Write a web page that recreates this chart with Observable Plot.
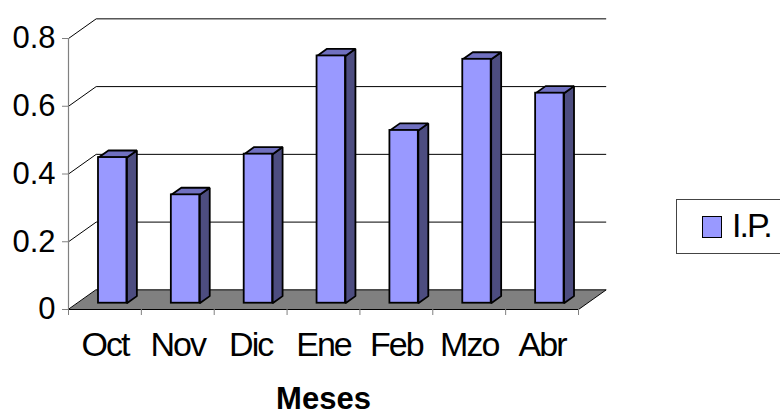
<!DOCTYPE html>
<html>
<head>
<meta charset="utf-8">
<script src="https://cdn.jsdelivr.net/npm/d3@7"></script>
<script src="https://cdn.jsdelivr.net/npm/@observablehq/plot@0.6"></script>
<style>
  html, body { margin: 0; padding: 0; background: #fff; }
  #wrap { position: relative; width: 780px; height: 418px; font-family: "Liberation Sans", Arial, sans-serif; }
  #legend { position: absolute; left: 676px; top: 199px; width: 120px; height: 53px; border: 1px solid #444; box-sizing: content-box; }
  #legend .sw { position: absolute; left: 25px; top: 16px; width: 20px; height: 22px; background: #9999FF; border: 1.5px solid #000; box-sizing: border-box; }
  #legend .lb { position: absolute; left: 55px; top: 8px; font-size: 34px; line-height: 34px; letter-spacing: -2px; color: #000; white-space: nowrap; }
</style>
</head>
<body>
<div id="wrap"></div>
<script>
// ---- data ----
const categories = ["Oct", "Nov", "Dic", "Ene", "Feb", "Mzo", "Abr"];
const values = [0.43, 0.32, 0.44, 0.73, 0.51, 0.72, 0.62];
const yTicks = [0, 0.2, 0.4, 0.6, 0.8];
const yTickLabels = ["0", "0.2", "0.4", "0.6", "0.8"];
const seriesName = "I.P.";
const xTitle = "Meses";

// ---- pseudo-3D projection (depth expressed in data units) ----
const DX = 0.38;   // x shift (category units) for full depth
const DY = 0.058;  // y shift (value units) for full depth
const BX0 = 0.29, BX1 = 0.68; // bar extent inside category
const D1 = 0.32, D2 = 0.68;   // bar depth extent
const n = categories.length;
const P = (ix, v, d, id) => ({id, x: ix + d * DX, y: v + d * DY});

const floor = [P(0, 0, 0, "f"), P(n, 0, 0, "f"), P(n, 0, 1, "f"), P(0, 0, 1, "f")];
const grid = yTicks.filter(t => t > 0).flatMap(t => [P(0, t, 0, t), P(0, t, 1, t), P(n, t, 1, t)]);

const bars = categories.map((c, i) => ({i, c, v: values[i]}));
const sides = bars.flatMap(b => [
  P(b.i + BX1, 0, D1, b.c), P(b.i + BX1, b.v, D1, b.c), P(b.i + BX1, b.v, D2, b.c), P(b.i + BX1, 0, D2, b.c)
]);
const tops = bars.flatMap(b => [
  P(b.i + BX0, b.v, D1, b.c), P(b.i + BX1, b.v, D1, b.c), P(b.i + BX1, b.v, D2, b.c), P(b.i + BX0, b.v, D2, b.c)
]);

const chart = Plot.plot({
  width: 780,
  height: 418,
  marginLeft: 68,
  marginRight: 202,
  marginTop: 38,
  marginBottom: 109,
  x: {domain: [0, n]},
  y: {domain: [0, 0.8]},
  style: {fontFamily: "'Liberation Sans', Arial, sans-serif", background: "white", color: "black", overflow: "visible"},
  marks: [
    Plot.line(floor, {x: "x", y: "y", z: "id", curve: "linear-closed", fill: "#808080", stroke: "#000", strokeWidth: 1}),
    Plot.line(grid, {x: "x", y: "y", z: "id", stroke: "#000", strokeWidth: 1, strokeLinecap: "butt"}),
    Plot.ruleX([0], {y1: 0, y2: 0.8, stroke: "#808080", strokeWidth: 1.2}),
    Plot.axisY(yTicks, {tickSize: 6, tickPadding: 7, tickFormat: d => yTickLabels[yTicks.indexOf(d)], fontSize: 31, stroke: "#808080", fill: "#000", label: null}),
    Plot.axisX(d3.range(0, n + 1), {tickSize: 6, tickFormat: () => "", stroke: "#808080", label: null}),
    Plot.axisX(categories.map((c, i) => i + 0.5), {tickSize: 0, tickPadding: 22, tickFormat: d => categories[Math.round(d - 0.5)], fontSize: 34, fill: "#000", label: null}),
    Plot.line(sides, {x: "x", y: "y", z: "id", curve: "linear-closed", fill: "#4D4D80", stroke: "#000", strokeWidth: 1.8, strokeLinejoin: "miter"}),
    Plot.line(tops, {x: "x", y: "y", z: "id", curve: "linear-closed", fill: "#7070C0", stroke: "#000", strokeWidth: 1.8, strokeLinejoin: "miter"}),
    Plot.rect(bars, {
      x1: d => d.i + BX0 + D1 * DX, x2: d => d.i + BX1 + D1 * DX,
      y1: D1 * DY, y2: d => d.v + D1 * DY,
      fill: "#9999FF", stroke: "#000", strokeWidth: 1.8
    }),
    Plot.text([xTitle], {frameAnchor: "bottom", dy: 99, text: d => d, fontWeight: "bold", fontSize: 31, fill: "#000"})
  ]
});

d3.select(chart).selectAll("text").filter(function() {
  return this.closest("g[aria-label='x-axis tick label']");
}).attr("letter-spacing", "-2");

const wrap = document.getElementById("wrap");
wrap.appendChild(chart);
const legend = document.createElement("div");
legend.id = "legend";
legend.innerHTML = `<div class="sw"></div><div class="lb"></div>`;
legend.querySelector(".lb").textContent = seriesName;
wrap.appendChild(legend);
</script>
</body>
</html>
